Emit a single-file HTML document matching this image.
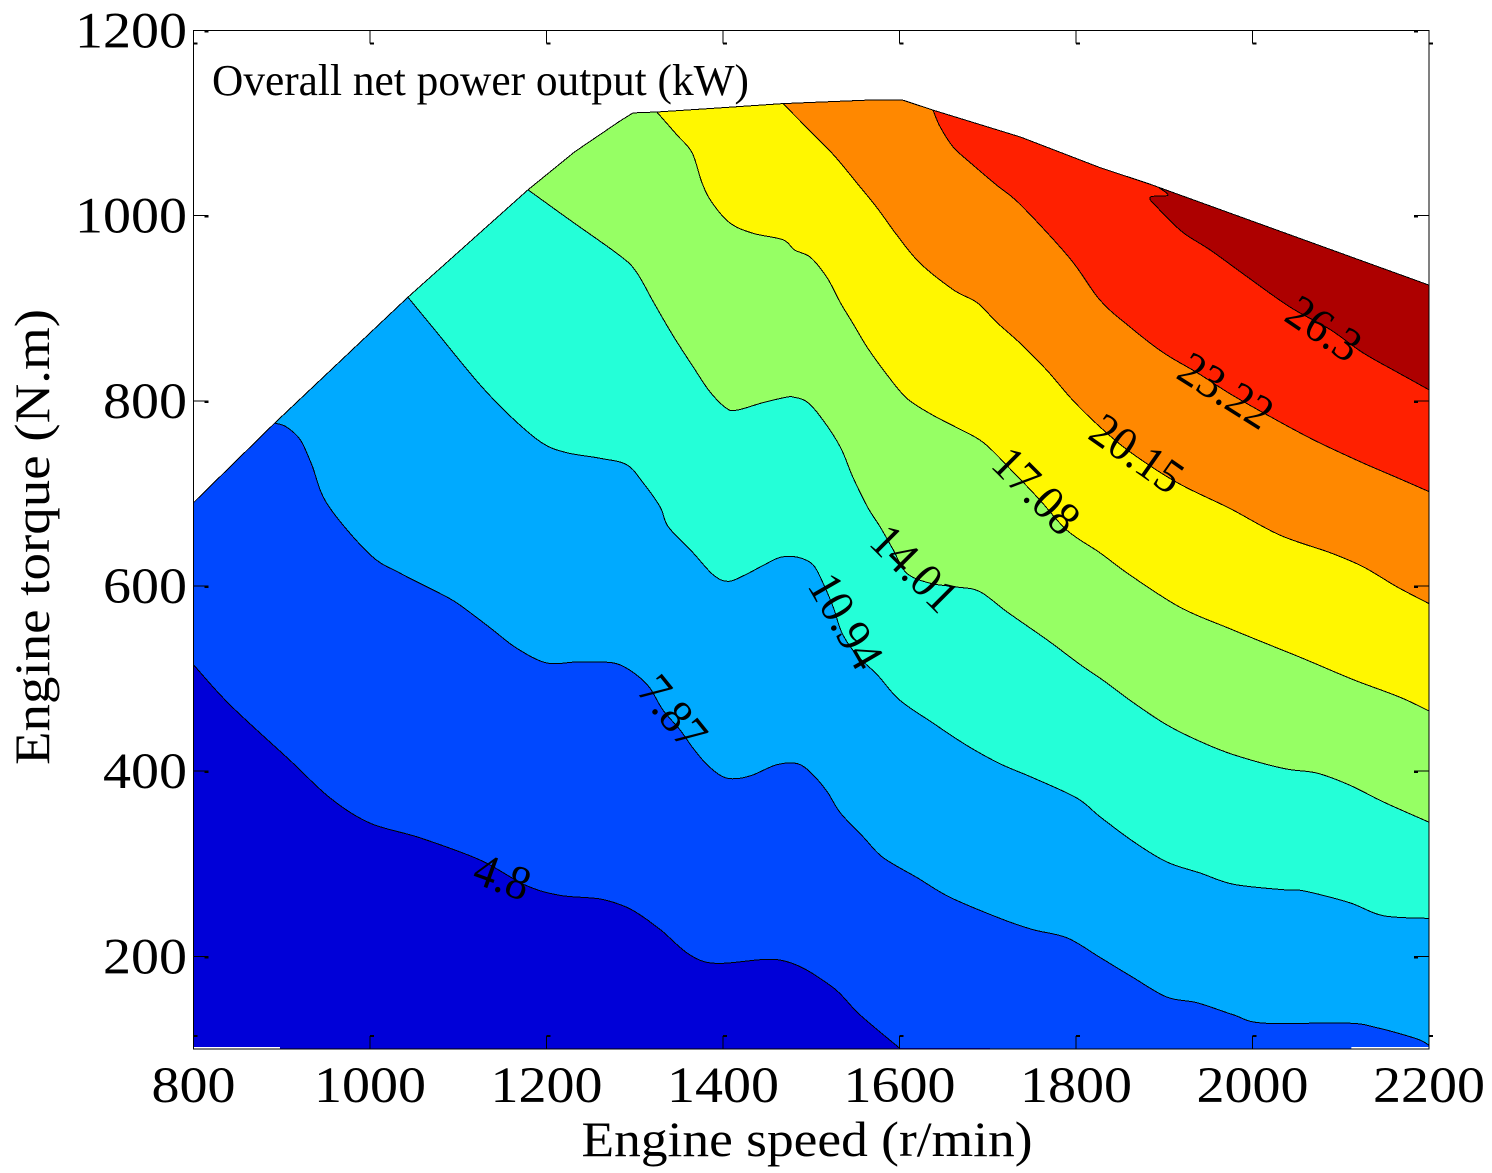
<!DOCTYPE html>
<html lang="en">
<head>
<meta charset="utf-8">
<title>Overall net power output contour map</title>
<style>
  html, body { margin: 0; padding: 0; background: #fff; }
  svg { display: block; }
  text { font-family: "Liberation Serif", serif; fill: #000; }
</style>
</head>
<body>
<svg id="chart" xmlns="http://www.w3.org/2000/svg" width="1492" height="1173" viewBox="0 0 1492 1173">
  <rect x="0" y="0" width="1492" height="1173" fill="#fff"/>
  <g id="bands"></g>
  <g id="lines"></g>
  <g id="labels"></g>
  <g id="axes"></g>
  <text x="212" y="95" font-size="44" textLength="537" lengthAdjust="spacingAndGlyphs">Overall net power output (kW)</text>
  <text x="807" y="1156" font-size="50" text-anchor="middle" textLength="451" lengthAdjust="spacingAndGlyphs">Engine speed (r/min)</text>
  <text transform="translate(49,537) rotate(-90)" font-size="50" text-anchor="middle" textLength="456" lengthAdjust="spacingAndGlyphs">Engine torque (N.m)</text>
</svg>
<script>
const speedTicks = [800, 1000, 1200, 1400, 1600, 1800, 2000, 2200];
const torqueTicks = [200, 400, 600, 800, 1000, 1200];
const levelLabels = ['4.8', '7.87', '10.94', '14.01', '17.08', '20.15', '23.22', '26.3'];

const envelope = [[800,690],[892,776],[1043,912],[1179,1028],[1232,1069],[1283,1102],[1298,1111],[1325,1112],[1389,1116],[1468,1121],[1570,1125],[1603,1125],[1638,1114],[1737,1085],[1827,1052],[1884,1034],[2200,925]];

const contour48 = [[800,515],[841,472],[909,412],[955,371],[1000,344],[1057,328],[1125,304],[1176,277],[1215,266],[1261,262],[1291,253],[1312,241],[1329,229],[1380,194],[1465,196],[1521,169],[1555,137],[1600,101]];
const contour787 = [[892,776],[905,772],[921,758],[934,731],[952,688],[1000,634],[1034,614],[1071,596],[1098,582],[1136,555],[1166,533],[1200,517],[1234,518],[1264,518],[1283,515],[1302,504],[1317,490],[1332,466],[1351,445],[1366,425],[1382,407],[1400,394],[1416,392],[1434,396],[1461,407],[1485,408],[1502,396],[1518,378],[1533,355],[1559,329],[1581,307],[1620,285],[1657,264],[1714,241],[1751,229],[1790,220],[1827,199],[1865,177],[1903,156],[1937,150],[1978,137],[2012,128],[2107,128],[2141,123],[2186,111],[2200,104]];
const contour1094 = [[1043,912],[1074,876],[1125,817],[1164,779],[1196,754],[1223,744],[1261,738],[1291,731],[1309,712],[1329,685],[1338,664],[1366,636],[1389,612],[1406,605],[1425,612],[1445,622],[1465,631],[1485,631],[1502,623],[1513,604],[1525,577],[1535,549],[1552,525],[1575,504],[1600,477],[1638,452],[1676,428],[1714,408],[1751,393],[1801,371],[1827,351],[1865,324],[1903,302],[1941,290],[1978,278],[2035,272],[2057,271],[2110,258],[2148,244],[2200,241]];
const contour1401 = [[1179,1028],[1227,995],[1283,957],[1302,939],[1321,907],[1343,871],[1366,837],[1385,810],[1404,792],[1416,790],[1445,798],[1472,804],[1480,804],[1495,799],[1512,781],[1533,750],[1547,718],[1564,685],[1578,664],[1593,639],[1608,614],[1635,603],[1665,599],[1691,594],[1722,572],[1767,542],[1805,515],[1831,498],[1865,474],[1903,450],[1941,432],[1978,418],[2035,403],[2073,398],[2110,385],[2148,367],[2200,345]];
const contour1708 = [[1325,1112],[1348,1087],[1365,1068],[1376,1036],[1387,1015],[1408,992],[1434,981],[1468,974],[1481,963],[1499,955],[1518,933],[1533,906],[1547,884],[1564,857],[1586,828],[1608,803],[1635,786],[1665,771],[1695,755],[1729,723],[1759,693],[1790,660],[1827,636],[1861,612],[1918,577],[1974,554],[2054,523],[2114,499],[2167,480],[2200,465]];
const contour2015 = [[1468,1121],[1495,1095],[1525,1066],[1552,1035],[1575,1008],[1597,979],[1623,949],[1661,920],[1688,906],[1710,885],[1737,862],[1767,833],[1796,801],[1827,772],[1861,745],[1914,712],[1974,684],[2031,655],[2088,636],[2125,621],[2164,599],[2200,581]];
const contour2322 = [[1638,1114],[1646,1096],[1661,1074],[1683,1055],[1710,1033],[1737,1012],[1793,954],[1827,909],[1861,880],[1899,852],[1938,830],[1974,808],[2020,783],[2069,758],[2125,733],[2164,717],[2200,702]];
const contour263 = [[1893,1031],[1904,1022],[1884,1020],[1893,1008],[1921,982],[1952,963],[1994,934],[2043,901],[2088,877],[2125,852],[2164,831],[2200,812]];
const contours = [contour48, contour787, contour1094, contour1401, contour1708, contour2015, contour2322, contour263];

const labelSpeeds = [1150, 1343, 1539, 1617, 1755, 1869, 1970, 2081];
const labelTorques = [286, 464, 562, 619, 703, 743, 811, 878];

const bandColors = ['#0000d8', '#0048ff', '#00aaff', '#24ffd8', '#96ff64', '#fff700', '#ff8800', '#ff2000', '#ad0000'];
const labelAngles = [20, 51, 60, 45, 45, 35, 32, 34];

const NS = 'http://www.w3.org/2000/svg';
const plot = { left: 193.5, right: 1429, top: 30.5, bottom: 1049 };
const xMin = 800, xMax = 2200, yMin = 100, yMax = 1200;
const xScale = v => plot.left + (v - xMin) / (xMax - xMin) * (plot.right - plot.left);
const yScale = v => plot.bottom - (v - yMin) / (yMax - yMin) * (plot.bottom - plot.top);
const toPx = p => [xScale(p[0]), yScale(p[1])];

function make(tag, attrs, parent) {
  const el = document.createElementNS(NS, tag);
  Object.keys(attrs).forEach(k => el.setAttribute(k, attrs[k]));
  parent.appendChild(el);
  return el;
}

function smooth(points) {
  let d = '';
  for (let i = 0; i < points.length - 1; i++) {
    const p0 = points[Math.max(i - 1, 0)], p1 = points[i], p2 = points[i + 1], p3 = points[Math.min(i + 2, points.length - 1)];
    const c1x = p1[0] + (p2[0] - p0[0]) / 6, c1y = p1[1] + (p2[1] - p0[1]) / 6;
    const c2x = p2[0] - (p3[0] - p1[0]) / 6, c2y = p2[1] - (p3[1] - p1[1]) / 6;
    d += ' C' + c1x.toFixed(1) + ' ' + c1y.toFixed(1) + ' ' + c2x.toFixed(1) + ' ' + c2y.toFixed(1) + ' ' + p2[0].toFixed(1) + ' ' + p2[1].toFixed(1);
  }
  return d;
}

const bandsG = document.getElementById('bands');
const linesG = document.getElementById('lines');
const labelsG = document.getElementById('labels');
const axesG = document.getElementById('axes');

/* base band: whole operating region under the torque envelope */
const envPx = envelope.map(toPx);
const baseD = 'M' + envPx.map(p => p[0].toFixed(1) + ' ' + p[1].toFixed(1)).join(' L') +
  ' L' + xScale(xMax) + ' ' + yScale(yMin) + ' L' + xScale(xMin) + ' ' + yScale(yMin) + ' Z';
const baseBand = make('path', { d: baseD, fill: bandColors[0], 'shape-rendering': 'crispEdges' }, bandsG);



/* each band covers everything above its contour, up to the envelope */
contours.forEach((contour, i) => {
  const pts = contour.map(toPx);
  const head = 'M' + pts[0][0].toFixed(1) + ' ' + pts[0][1].toFixed(1) + smooth(pts);
  let d = head;
  const last = contour[contour.length - 1];
  if (last[0] < xMax) {
    d += ' L' + xScale(xMax) + ' ' + yScale(yMin);
  }
  const startSpeed = contour[0][0];
  envelope.filter(p => p[0] >= startSpeed).reverse().forEach(p => {
    const q = toPx(p);
    d += ' L' + q[0].toFixed(1) + ' ' + q[1].toFixed(1);
  });
  d += ' Z';
  const band = make('path', { d: d, fill: bandColors[i + 1], 'shape-rendering': 'crispEdges' }, bandsG);
  
  

  const line = make('path', { d: head, fill: 'none', stroke: '#000', 'stroke-width': 1, 'shape-rendering': 'crispEdges' }, linesG);
  
  
});

/* torque envelope outline */
const envLine = make('path', { d: 'M' + envPx.map(p => p[0].toFixed(1) + ' ' + p[1].toFixed(1)).join(' L'), fill: 'none', stroke: '#000', 'stroke-width': 1, 'shape-rendering': 'crispEdges' }, linesG);



/* contour labels */
levelLabels.forEach((txt, i) => {
  const x = xScale(labelSpeeds[i]);
  const y = yScale(labelTorques[i]);
  const t = make('text', {
    'font-size': 48,
    'text-anchor': 'middle',
    transform: 'translate(' + x.toFixed(1) + ',' + y.toFixed(1) + ') rotate(' + labelAngles[i] + ') scale(0.94,1)',
    dy: '0.33em'
  }, labelsG);
  
  
  t.textContent = txt;
});

/* thin white slivers along the bottom axis */
const sliverLeft = make('rect', { x: xScale(800), y: plot.bottom - 2, width: xScale(898) - xScale(800), height: 2, fill: '#fff' }, axesG);


const sliverRight = make('rect', { x: xScale(2112), y: plot.bottom - 2, width: xScale(2200) - xScale(2112), height: 2, fill: '#fff' }, axesG);



/* axes box */
const box = make('rect', { x: plot.left, y: plot.top, width: plot.right - plot.left, height: plot.bottom - plot.top, fill: 'none', stroke: '#000', 'stroke-width': 1.4, 'shape-rendering': 'crispEdges' }, axesG);



function tickPath(d, serif, name) {
  const tick = make('path', { d: d, fill: 'none', stroke: '#000', 'stroke-width': 1, 'shape-rendering': 'crispEdges' }, axesG);
  
  
  const end = make('path', { d: serif, fill: 'none', stroke: '#000', 'stroke-width': 2, 'shape-rendering': 'crispEdges' }, axesG);
  
  
}

const tickLen = 13;
speedTicks.forEach(v => {
  const x = xScale(v);
  const yTop = plot.top + tickLen, yBottom = plot.bottom - tickLen;
  tickPath('M' + x + ' ' + plot.top + ' V' + yTop + ' M' + x + ' ' + plot.bottom + ' V' + yBottom,
    'M' + x + ' ' + yTop + ' h4 M' + x + ' ' + yBottom + ' h4', 'x-tick-' + v);
  const t = make('text', { x: x, y: 1102, 'font-size': 51, 'text-anchor': 'middle', textLength: String(v).length * 28, lengthAdjust: 'spacingAndGlyphs' }, axesG);
  
  
  t.textContent = String(v);
});
torqueTicks.forEach(v => {
  const y = yScale(v);
  tickPath('M' + plot.left + ' ' + y + ' h15 M' + plot.right + ' ' + y + ' h-15',
    'M' + (plot.left + 11) + ' ' + (y + 1) + ' h4 M' + (plot.right - 15) + ' ' + (y + 1) + ' h4', 'y-tick-' + v);
  const t = make('text', { x: 187, y: y + 17, 'font-size': 51, 'text-anchor': 'end', textLength: String(v).length * 28, lengthAdjust: 'spacingAndGlyphs' }, axesG);
  
  
  t.textContent = String(v);
});
</script>
</body>
</html>
